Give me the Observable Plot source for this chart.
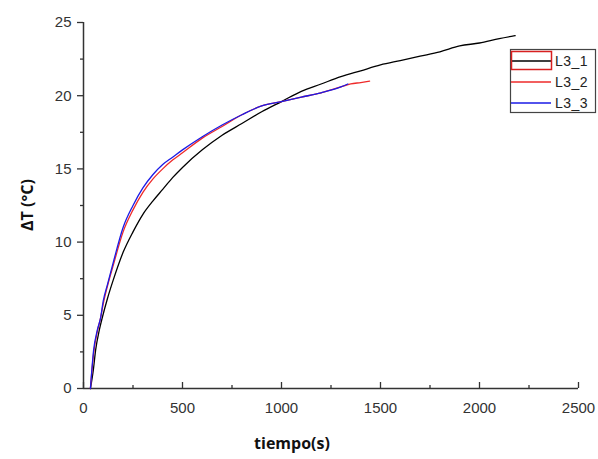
<!DOCTYPE html>
<html><head><meta charset="utf-8">
<script src="https://cdn.jsdelivr.net/npm/d3@7"></script>
<script src="https://cdn.jsdelivr.net/npm/@observablehq/plot@0.6"></script>
<style>
body{margin:0;background:#fff;}
#wrap{position:relative;width:598px;height:459px;}
</style></head><body>
<div id="wrap"></div>
<script>
const seriesNames = ["L3_1", "L3_2", "L3_3"];
const seriesColors = ["#000000", "#ee2a2a", "#1a1ae6"];
const L3_1 = [[35,0],[50,1.3],[61,2.6],[80,4.0],[96,4.9],[120,6.1],[150,7.4],[200,9.3],[250,10.7],[300,11.9],[350,12.8],[400,13.6],[450,14.4],[500,15.1],[600,16.3],[700,17.3],[800,18.1],[900,18.9],[1000,19.6],[1100,20.3],[1200,20.8],[1300,21.3],[1400,21.7],[1500,22.1],[1600,22.4],[1700,22.7],[1800,23.0],[1900,23.4],[2000,23.6],[2100,23.9],[2180,24.1]];
const L3_2 = [[35,0],[52,2.5],[70,3.9],[86,4.8],[100,5.8],[121,7.0],[152,8.5],[200,10.7],[250,12.2],[300,13.4],[350,14.3],[400,15.0],[450,15.6],[500,16.1],[600,17.1],[700,17.9],[800,18.7],[900,19.3],[1000,19.6],[1100,19.9],[1200,20.2],[1300,20.6],[1350,20.8],[1400,20.9],[1445,21.0]];
const L3_3 = [[35,0],[51,2.6],[70,4.0],[86,4.8],[100,6.0],[121,7.1],[152,8.7],[200,11.0],[250,12.5],[300,13.7],[350,14.6],[400,15.3],[450,15.8],[500,16.3],[600,17.2],[700,18.0],[800,18.7],[900,19.3],[1000,19.6],[1100,19.9],[1200,20.2],[1300,20.6],[1335,20.8]];
const xTicks = [0, 500, 1000, 1500, 2000, 2500];
const xMinor = [250, 750, 1250, 1750, 2250];
const yTicks = [0, 5, 10, 15, 20, 25];
const yMinor = [2.5, 7.5, 12.5, 17.5, 22.5];
const xLabel = "tiempo(s)";
const yLabel = "ΔT (°C)";

const allSeries = [L3_1, L3_2, L3_3];
const data = allSeries.flatMap((s, i) => s.map(([t, v]) => ({t, v, name: seriesNames[i]})));

const tickFont = {fontFamily: "Liberation Sans, Arial, sans-serif", fontSize: 15, fill: "#333"};
const plot = Plot.plot({
  width: 598, height: 459,
  marginLeft: 83, marginRight: 20, marginTop: 22, marginBottom: 71,
  style: {background: "#fff", overflow: "visible"},
  x: {domain: [0, 2500]},
  y: {domain: [0, 25]},
  color: {domain: seriesNames, range: seriesColors},
  marks: [
    Plot.axisX({ticks: xTicks, tickSize: 0, tickPadding: 14, tickFormat: "d", label: null, ...tickFont}),
    Plot.ruleX(xTicks, {x: d => d, y1: 0, y2: 0, insetTop: -6, stroke: "#333", strokeWidth: 1.3}),
    Plot.ruleX(xMinor, {x: d => d, y1: 0, y2: 0, insetTop: -3, stroke: "#333", strokeWidth: 1.3}),
    Plot.axisY({ticks: yTicks, tickSize: 6, tickPadding: 6, label: null, stroke: "#333", strokeWidth: 1.3, ...tickFont}),
    Plot.axisY({ticks: yMinor, tickSize: 3, tickFormat: () => "", label: null, stroke: "#333", strokeWidth: 1.3}),
    Plot.ruleY([0], {stroke: "#333", strokeWidth: 1.5}),
    Plot.ruleX([0], {stroke: "#333", strokeWidth: 1.5}),
    Plot.line(data, {x: "t", y: "v", z: "name", stroke: "name", strokeWidth: 1.3, curve: "monotone-x"})
  ]
});
const wrap = document.getElementById("wrap");
wrap.appendChild(plot);

// axis titles
const svg = d3.select(plot);
svg.append("text").attr("x", 292).attr("y", 449).attr("text-anchor", "middle")
  .attr("font-family", "Open Sans, sans-serif").attr("font-weight", "bold").attr("font-size", 16).attr("fill", "#111").text(xLabel);
svg.append("text").attr("transform", "translate(33,205) rotate(-90)").attr("text-anchor", "middle")
  .attr("font-family", "Open Sans, sans-serif").attr("font-weight", "bold").attr("font-size", 16).attr("fill", "#111").text(yLabel);

// legend
const lg = svg.append("g");
lg.append("rect").attr("x", 510.5).attr("y", 49.5).attr("width", 85).attr("height", 63)
  .attr("fill", "#fff").attr("stroke", "#444").attr("stroke-width", 1.2);
seriesNames.forEach((n, i) => {
  const cy = 61 + i * 21;
  lg.append("line").attr("x1", 511).attr("x2", 551).attr("y1", cy).attr("y2", cy)
    .attr("stroke", seriesColors[i]).attr("stroke-width", 1.3);
  lg.append("text").attr("x", 555).attr("y", cy + 5).attr("text-anchor", "start")
    .attr("font-family", "Liberation Sans, Arial, sans-serif")
    .attr("font-size", 14).attr("letter-spacing", 0.5).attr("fill", "#222").text(n);
});
lg.append("rect").attr("x", 511.5).attr("y", 51.5).attr("width", 40).attr("height", 18)
  .attr("fill", "none").attr("stroke", "#d82020").attr("stroke-width", 1.5);
</script></body></html>
